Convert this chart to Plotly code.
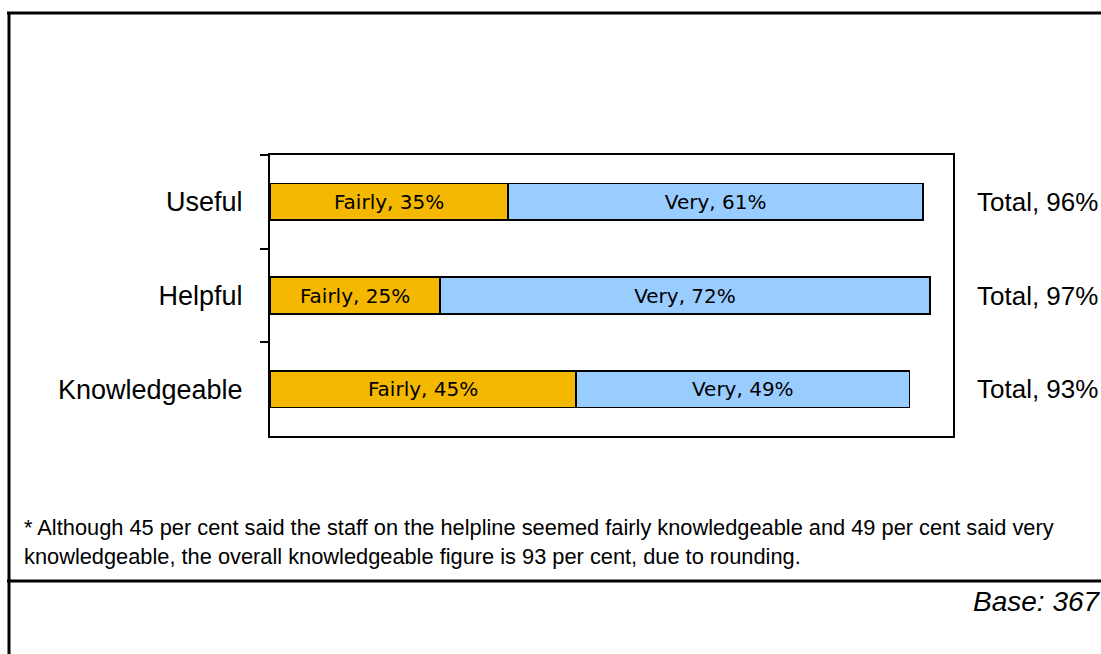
import plotly.graph_objects as go

categories = ["Useful", "Helpful", "Knowledgeable"]
fairly = [35, 25, 45]
very = [61, 72, 49]
totals = [96, 97, 93]
footnote_1 = "* Although 45 per cent said the staff on the helpline seemed fairly knowledgeable and 49 per cent said very"
footnote_2 = "knowledgeable, the overall knowledgeable figure is 93 per cent, due to rounding."
base_text = "Base: 367"

OFF = 0  # body margin removed below, figure sits at the window's corner
W, H = 1101, 654
L, R, T, B = 270, 953, 155, 436


def px2x(px):
    return (px - OFF - L) / (R - L)


def px2y(py):
    return (B - (py - OFF)) / (B - T)


fig = go.Figure()
fig.add_trace(go.Bar(
    y=categories, x=fairly, orientation="h", name="Fairly",
    marker=dict(color="#F5B800", line=dict(color="#000000", width=1.5)),
    text=[f"Fairly, {v}%" for v in fairly], textposition="inside",
    insidetextanchor="middle",
    textfont=dict(family="DejaVu Sans", size=20, color="#000000"),
    width=0.39,
))
fig.add_trace(go.Bar(
    y=categories, x=very, orientation="h", name="Very",
    marker=dict(color="#99CCFF", line=dict(color="#000000", width=1.5)),
    text=[f"Very, {v}%" for v in very], textposition="inside",
    insidetextanchor="middle",
    textfont=dict(family="DejaVu Sans", size=20, color="#000000"),
    width=0.39,
))

annotations = []
for c, t in zip(categories, totals):
    annotations.append(dict(
        x=px2x(975), xref="paper", xanchor="left",
        y=c, yref="y", yanchor="middle",
        text=f"Total, {t}%", showarrow=False,
        font=dict(family="Liberation Sans", size=26, color="#000000"),
    ))
annotations.append(dict(x=px2x(22), xref="paper", xanchor="left", y=px2y(527), yref="paper",
                        yanchor="middle", text=footnote_1, showarrow=False,
                        font=dict(family="Liberation Sans", size=21.8, color="#000000")))
annotations.append(dict(x=px2x(22), xref="paper", xanchor="left", y=px2y(556), yref="paper",
                        yanchor="middle", text=footnote_2, showarrow=False,
                        font=dict(family="Liberation Sans", size=21.8, color="#000000")))
annotations.append(dict(x=px2x(1103), xref="paper", xanchor="right", y=px2y(601), yref="paper",
                        yanchor="middle", text=f"<i>{base_text}</i>", showarrow=False,
                        font=dict(family="Liberation Sans", size=28, color="#000000")))

shapes = [
    dict(type="line", xref="paper", yref="paper", x0=px2x(7), x1=px2x(1110),
         y0=px2y(13), y1=px2y(13), line=dict(color="#000000", width=3)),
    dict(type="line", xref="paper", yref="paper", x0=px2x(9), x1=px2x(9),
         y0=px2y(12), y1=px2y(660), line=dict(color="#000000", width=3)),
    dict(type="line", xref="paper", yref="paper", x0=px2x(7), x1=px2x(1110),
         y0=px2y(581), y1=px2y(581), line=dict(color="#000000", width=3)),
]

fig.update_layout(
    barmode="stack",
    width=W, height=H,
    autosize=False,
    margin=dict(l=L, r=W - R, t=T, b=H - B, pad=0),
    paper_bgcolor="#FFFFFF", plot_bgcolor="#FFFFFF",
    showlegend=False,
    annotations=annotations,
    shapes=shapes,
    xaxis=dict(range=[0, 100.4], showgrid=False, zeroline=False, showticklabels=False,
               ticks="", showline=True, mirror=True, linecolor="#000000", linewidth=2,
               fixedrange=True),
    yaxis=dict(categoryorder="array", categoryarray=categories, autorange="reversed",
               showgrid=False, zeroline=False, ticks="outside", tickson="boundaries",
               ticklen=8, tickwidth=2, tickcolor="#000000",
               showline=True, mirror=True, linecolor="#000000", linewidth=2,
               ticklabelstandoff=20,
               tickfont=dict(family="Liberation Sans", size=27, color="#000000")),
    uniformtext=dict(minsize=10, mode="show"),
)

fig.write_html(
    "out.html",
    config={"displayModeBar": False},
    post_script="document.body.style.margin='0';document.body.style.overflow='hidden';",
)
